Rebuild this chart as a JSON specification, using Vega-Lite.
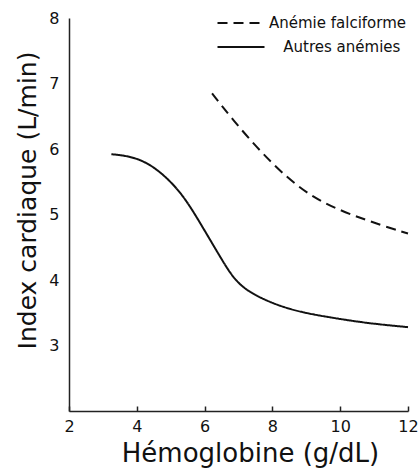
{
  "$schema": "https://vega.github.io/schema/vega-lite/v6.json",
  "width": 339,
  "height": 393,
  "autosize": {"type": "none"},
  "padding": {"left": 69, "top": 18, "right": 11, "bottom": 58},
  "background": "white",
  "config": {
    "font": "DejaVu Sans",
    "view": {"stroke": null},
    "axis": {"grid": false, "domainColor": "#222", "domainWidth": 1.5, "labelColor": "#111", "titleColor": "#111", "titleFontWeight": "normal"}
  },
  "data": {
    "values": [
      {"hb": 3.25, "ci": 5.92, "s": "Autres anémies"},
      {"hb": 3.7, "ci": 5.9, "s": "Autres anémies"},
      {"hb": 4.4, "ci": 5.79, "s": "Autres anémies"},
      {"hb": 5.27, "ci": 5.38, "s": "Autres anémies"},
      {"hb": 5.86, "ci": 4.88, "s": "Autres anémies"},
      {"hb": 6.45, "ci": 4.36, "s": "Autres anémies"},
      {"hb": 6.84, "ci": 4.03, "s": "Autres anémies"},
      {"hb": 7.25, "ci": 3.83, "s": "Autres anémies"},
      {"hb": 8.0, "ci": 3.64, "s": "Autres anémies"},
      {"hb": 8.8, "ci": 3.51, "s": "Autres anémies"},
      {"hb": 9.8, "ci": 3.42, "s": "Autres anémies"},
      {"hb": 10.8, "ci": 3.34, "s": "Autres anémies"},
      {"hb": 12.0, "ci": 3.28, "s": "Autres anémies"},
      {"hb": 6.22, "ci": 6.85, "s": "Anémie falciforme"},
      {"hb": 6.84, "ci": 6.44, "s": "Anémie falciforme"},
      {"hb": 7.63, "ci": 5.97, "s": "Anémie falciforme"},
      {"hb": 8.43, "ci": 5.56, "s": "Anémie falciforme"},
      {"hb": 9.2, "ci": 5.26, "s": "Anémie falciforme"},
      {"hb": 10.0, "ci": 5.06, "s": "Anémie falciforme"},
      {"hb": 10.8, "ci": 4.91, "s": "Anémie falciforme"},
      {"hb": 11.55, "ci": 4.78, "s": "Anémie falciforme"},
      {"hb": 12.0, "ci": 4.71, "s": "Anémie falciforme"}
    ]
  },
  "mark": {"type": "line", "interpolate": "basis", "color": "#111", "strokeWidth": 2},
  "encoding": {
    "x": {
      "field": "hb", "type": "quantitative",
      "scale": {"domain": [2, 12], "nice": false, "zero": false},
      "axis": {"title": "Hémoglobine (g/dL)", "values": [2, 4, 6, 8, 10, 12], "tickSize": -5, "tickColor": "#222", "tickWidth": 1.5, "labelPadding": 12, "labelFontSize": 16, "titleFontSize": 26, "titleBaseline": "alphabetic", "titleX": 181, "titleY": 50, "labelFlush": false}
    },
    "y": {
      "field": "ci", "type": "quantitative",
      "scale": {"domain": [2, 8], "nice": false, "zero": false},
      "axis": {"title": "Index cardiaque (L/min)", "values": [3, 4, 5, 6, 7, 8], "ticks": false, "labelPadding": 10, "labelFontSize": 16, "titleFontSize": 25, "titleBaseline": "alphabetic", "titleX": -34, "titleY": 182, "labelFlush": false}
    },
    "strokeDash": {
      "field": "s", "type": "nominal",
      "scale": {"domain": ["Anémie falciforme", "Autres anémies"], "range": [[10, 6], [1, 0]]},
      "legend": {
        "title": null, "orient": "none", "legendX": 164.5, "legendY": -2.5,
        "symbolType": "M-4.7,0H4.7", "symbolSize": 100, "symbolStrokeWidth": 2, "symbolStrokeColor": "#111",
        "labelFontSize": 15, "labelColor": "#111", "rowPadding": 8, "labelOffset": 20.5,
        "labelExpr": "datum.value === 'Autres anémies' ? '\u200b\u00a0\u00a0\u00a0Autres anémies' : datum.label"
      }
    }
  }
}
